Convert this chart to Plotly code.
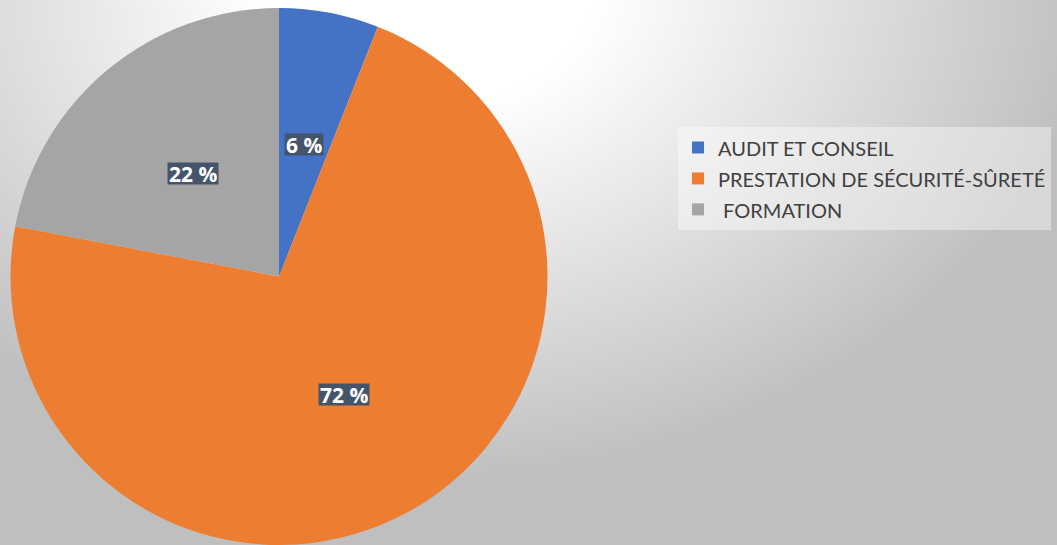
import base64
import math
import plotly.graph_objects as go

W, H = 1057, 545

labels = ['AUDIT ET CONSEIL', 'PRESTATION DE SÉCURITÉ-SÛRETÉ', ' FORMATION']
values = [6, 72, 22]
colors = ['#4472C4', '#ED7D31', '#A5A5A5']
pct_text = ['6 %', '72 %', '22 %']

# radial grey background, light near the top middle
bg_svg = f'''<svg xmlns="http://www.w3.org/2000/svg" width="{W}" height="{H}" viewBox="0 0 {W} {H}">
<defs><radialGradient id="g" gradientUnits="userSpaceOnUse" cx="0" cy="0" r="1"
 gradientTransform="translate(430,-20) scale(660,500)">
<stop offset="0" stop-color="#ffffff"/>
<stop offset="0.25" stop-color="#ffffff"/>
<stop offset="0.67" stop-color="#dcdcdc"/>
<stop offset="0.95" stop-color="#c4c4c4"/>
<stop offset="1" stop-color="#bfbfbf"/>
</radialGradient></defs>
<rect width="{W}" height="{H}" fill="url(#g)"/></svg>'''
bg_src = 'data:image/svg+xml;base64,' + base64.b64encode(bg_svg.encode()).decode()

dom_x = [10 / W, 548 / W]
dom_y = [0.0, 1 - 8 / H]

fig = go.Figure()
fig.add_trace(go.Pie(
    labels=[f'<span style="font-size:20px">{l}</span>' for l in labels],
    values=values,
    sort=False,
    direction='clockwise',
    rotation=0,
    marker=dict(colors=colors, line=dict(width=0)),
    textinfo='none',
    hoverinfo='label+percent',
    domain=dict(x=dom_x, y=dom_y),
))

# percentage labels at half radius on each slice's mid angle
cx = (dom_x[0] + dom_x[1]) / 2 * W
cy = (1 - (dom_y[0] + dom_y[1]) / 2) * H
r = min((dom_x[1] - dom_x[0]) * W, (dom_y[1] - dom_y[0]) * H) / 2
total = sum(values)
start = 0
for v, t in zip(values, pct_text):
    mid = (start + v / 2) / total * 2 * math.pi
    start += v
    px = cx + 0.5 * r * math.sin(mid)
    py = cy - 0.5 * r * math.cos(mid)
    fig.add_annotation(
        x=px / W, y=1 - py / H, xref='paper', yref='paper',
        xanchor='center', yanchor='middle',
        text=f'<b>{t}</b>', showarrow=False,
        font=dict(family='Open Sans, sans-serif', size=21, color='white'),
        bgcolor='#44546A', borderpad=1, height=19,
    )

fig.update_layout(
    width=W, height=H,
    margin=dict(l=0, r=0, t=0, b=0),
    paper_bgcolor='#bfbfbf',
    font=dict(family='Lato, sans-serif', color='#404040'),
    images=[dict(source=bg_src, xref='paper', yref='paper', x=0, y=1,
                 sizex=1, sizey=1, sizing='stretch', layer='below')],
    legend=dict(
        x=678 / W, y=1 - 127 / H, xanchor='left', yanchor='top',
        bgcolor='rgba(255,255,255,0.4)',
        font=dict(size=21.5, color='#404040', family='Lato, sans-serif'),
    ),
    showlegend=True,
)

fig.write_html('out.html', config={'displayModeBar': False},
               post_script="document.body.style.margin='0';")
